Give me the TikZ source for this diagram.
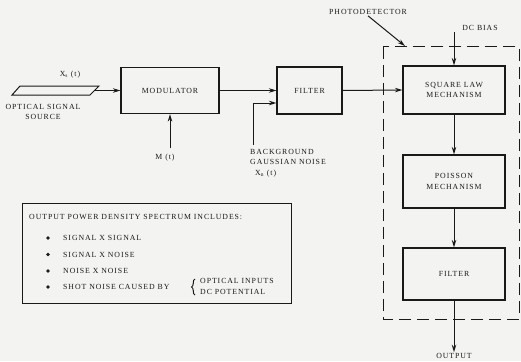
\documentclass[tikz,border=0pt]{standalone}
\usepackage{fontspec}
\setmainfont{Liberation Serif}[LetterSpace=12]
\usetikzlibrary{arrows.meta,calc,decorations.pathreplacing}

\definecolor{paper}{RGB}{243,243,241}
\definecolor{ink}{RGB}{25,25,25}

\tikzset{
  lbl/.style={font=\fontsize{7.8}{10.5}\selectfont, text=ink, inner sep=1pt, align=center},
  blk/.style={lbl, draw=ink, line width=1.2pt, minimum width=102pt, inner sep=0pt},
  arr/.style={draw=ink, line width=1pt, -{Stealth[length=7.5pt,width=4.5pt]}},
  dot/.style={circle, fill=ink, inner sep=0pt, minimum size=3.6pt},
}

\begin{document}
\begin{tikzpicture}[x=1pt,y=-1pt]
\fill[paper] (0,0) rectangle (521,361);
\useasboundingbox (0,0) rectangle (521,361);

% signal path
\draw[ink,line width=1pt] (20,86) -- (99,86) -- (90,95) -- (12,95) -- cycle;
\coordinate (srcout) at (94.5,90.5);
\node[lbl] (xs) at (70,75) {X\textsubscript{s} (t)};
\node[lbl] (srclbl) at (43,112) {OPTICAL SIGNAL\\SOURCE};

\node[blk,minimum width=98pt,minimum height=46pt] (mod) at (170,90.5) {MODULATOR};
\node[blk,minimum width=65pt,minimum height=47pt] (filt) at (309.5,90.5) {FILTER};
\node[lbl] (mt) at (165,158) {M (t)};
\node[lbl,align=left,anchor=north west] (noise) at (249,148) {BACKGROUND\\GAUSSIAN NOISE\\\hspace{5pt}X\textsubscript{n} (t)};
\coordinate (nbot) at (253,145);
\coordinate (mtop) at ([yshift=5pt]mt.north);

\draw[arr] (srcout) -- (srcout -| mod.west);
\draw[arr] (mtop -| mod.south) -- (mod.south);
\draw[arr] (mod.east) -- (filt.west);
\draw[arr] (nbot) |- ($(filt.west)+(0,12.5)$);

% photodetector
\draw[ink,line width=1pt,dash pattern=on 12pt off 6pt] (383,47) rectangle (519,319);
\coordinate (pdcorner) at (405,46);
\node[lbl] (pdlbl) at (368,12) {PHOTODETECTOR};
\node[lbl] (dcbias) at (480,28) {DC BIAS};

\node[blk,minimum height=48pt] (sqlaw) at (454,90) {SQUARE LAW\\MECHANISM};
\node[blk,minimum height=53pt] (poisson) at (454,181.5) {POISSON\\MECHANISM};
\node[blk,minimum height=52pt] (pdfilt) at (454,274) {FILTER};
\node[lbl] (outlbl) at (454,356) {OUTPUT};

\draw[arr] (pdlbl.south) -- (pdcorner);
\draw[arr] (sqlaw.north |- dcbias.south) -- (sqlaw.north);
\draw[arr] (filt.east) -- (sqlaw.west);
\draw[arr] (sqlaw) -- (poisson);
\draw[arr] (poisson) -- (pdfilt);
\draw[arr] (pdfilt) -- (outlbl);

% spectrum box
\node[draw=ink,line width=1.2pt,minimum width=269pt,minimum height=100pt,anchor=north west] (spec) at (22,203) {};
\node[lbl,anchor=west] (hdr) at (28,217) {OUTPUT POWER DENSITY SPECTRUM INCLUDES:};
\foreach \y/\txt [count=\i] in {238/SIGNAL X SIGNAL, 254.5/SIGNAL X NOISE, 271/NOISE X NOISE, 287/SHOT NOISE CAUSED BY} {
  \node[dot] (b\i) at (48,\y) {};
  \node[lbl,anchor=west] (item\i) at (62,\y) {\txt};
}
\draw[ink,line width=1pt,decorate,decoration={brace,amplitude=3.5pt}] (195,295) -- (195,279);
\node[lbl,align=left,anchor=west] (cause) at (199,286.5) {OPTICAL INPUTS\\DC POTENTIAL};
\end{tikzpicture}
\end{document}
